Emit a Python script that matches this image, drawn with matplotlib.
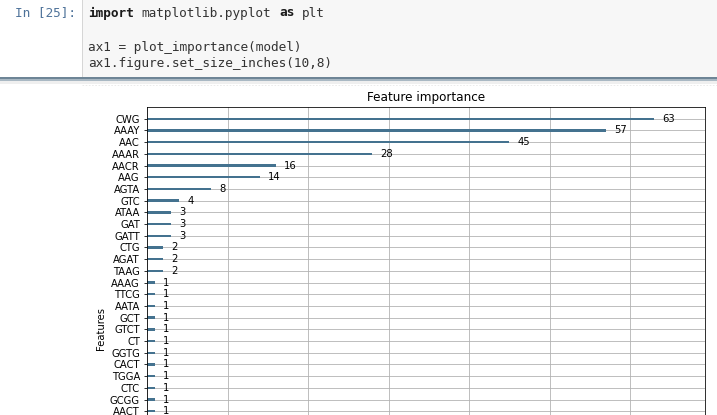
import matplotlib
matplotlib.use('Agg')
import matplotlib.pyplot as plt
from matplotlib.patches import Rectangle

# feature importance (F score), top to bottom as shown
features = ['CWG', 'AAAY', 'AAC', 'AAAR', 'AACR', 'AAG', 'AGTA', 'GTC', 'ATAA',
            'GAT', 'GATT', 'CTG', 'AGAT', 'TAAG', 'AAAG', 'TTCG', 'AATA', 'GCT',
            'GTCT', 'CT', 'GGTG', 'CACT', 'TGGA', 'CTC', 'GCGG', 'AACT']
scores = [63, 57, 45, 28, 16, 14, 8, 4, 3, 3, 3, 2, 2, 2,
          1, 1, 1, 1, 1, 1, 1, 1, 1, 1, 1, 1]

code_lines = ['import matplotlib.pyplot as plt',
              '',
              'ax1 = plot_importance(model)',
              'ax1.figure.set_size_inches(10,8)']

W, H = 717, 415
fig = plt.figure(figsize=(W / 72, H / 72), dpi=72)
fig.patch.set_facecolor('white')


def fx(x):
    return x / W


def fy(y):
    return 1 - y / H


def rect(x0, y0, x1, y1, color):
    fig.patches.append(Rectangle((fx(x0), fy(y1)), fx(x1) - fx(x0), fy(y0) - fy(y1),
                                 transform=fig.transFigure, color=color, lw=0))


# notebook input cell
rect(82, 0, W, 77, '#f7f7f7')
rect(82, 0, 83, 77, '#d6d6d6')
rect(0, 77, W, 79, '#6e8596')
rect(0, 79, W, 81, '#a9b8c3')
rect(0, 81, W, 84, '#efefef')
fig.lines.append(plt.Line2D([fx(82), fx(W)], [fy(85), fy(85)], transform=fig.transFigure,
                            color='#e6e6e6', lw=0.8, ls=(0, (2, 2))))

mono = dict(family='DejaVu Sans Mono', fontsize=12.7, va='center')
fig.text(fx(15), fy(13), 'In [25]:', color='#4f739a', **mono)
line_y = [13, 30, 47, 64]
cw = 7.65  # character width in px
for ln, y in zip(code_lines, line_y):
    if ln.startswith('import'):
        fig.text(fx(88), fy(y), 'import', color='#1a1a1a', weight='bold', **mono)
        fig.text(fx(88 + cw * 7), fy(y), 'matplotlib.pyplot', color='#333333', **mono)
        fig.text(fx(88 + cw * 25), fy(y), 'as', color='#1a1a1a', weight='bold', **mono)
        fig.text(fx(88 + cw * 28), fy(y), 'plt', color='#333333', **mono)
    elif ln:
        fig.text(fx(88), fy(y), ln, color='#333333', **mono)

# chart (axes runs past the bottom edge of the screenshot, x ticks are out of view)
ax = fig.add_axes([fx(147), fy(423), fx(705) - fx(147), fy(107) - fy(423)])
ylocs = list(range(len(features)))[::-1]
ax.barh(ylocs, scores, align='center', height=0.2, color='#44728f')
for x, y in zip(scores, ylocs):
    ax.text(x + 1, y, x, va='center', fontsize=10)
ax.set_yticks(ylocs)
ax.set_yticklabels(features)
ax.set_xlim(0, max(scores) * 1.1)
ax.set_ylim(-1, len(features))
ax.set_xticks(range(0, 70, 10))
ax.tick_params(axis='x', labelbottom=False)
ax.grid(True, color='#b0b0b0', lw=0.8)
ax.set_axisbelow(True)
ax.set_title('Feature importance', fontsize=12)
ax.set_ylabel('Features', fontsize=10, y=0.3)

fig.savefig('out.png', dpi=72)
